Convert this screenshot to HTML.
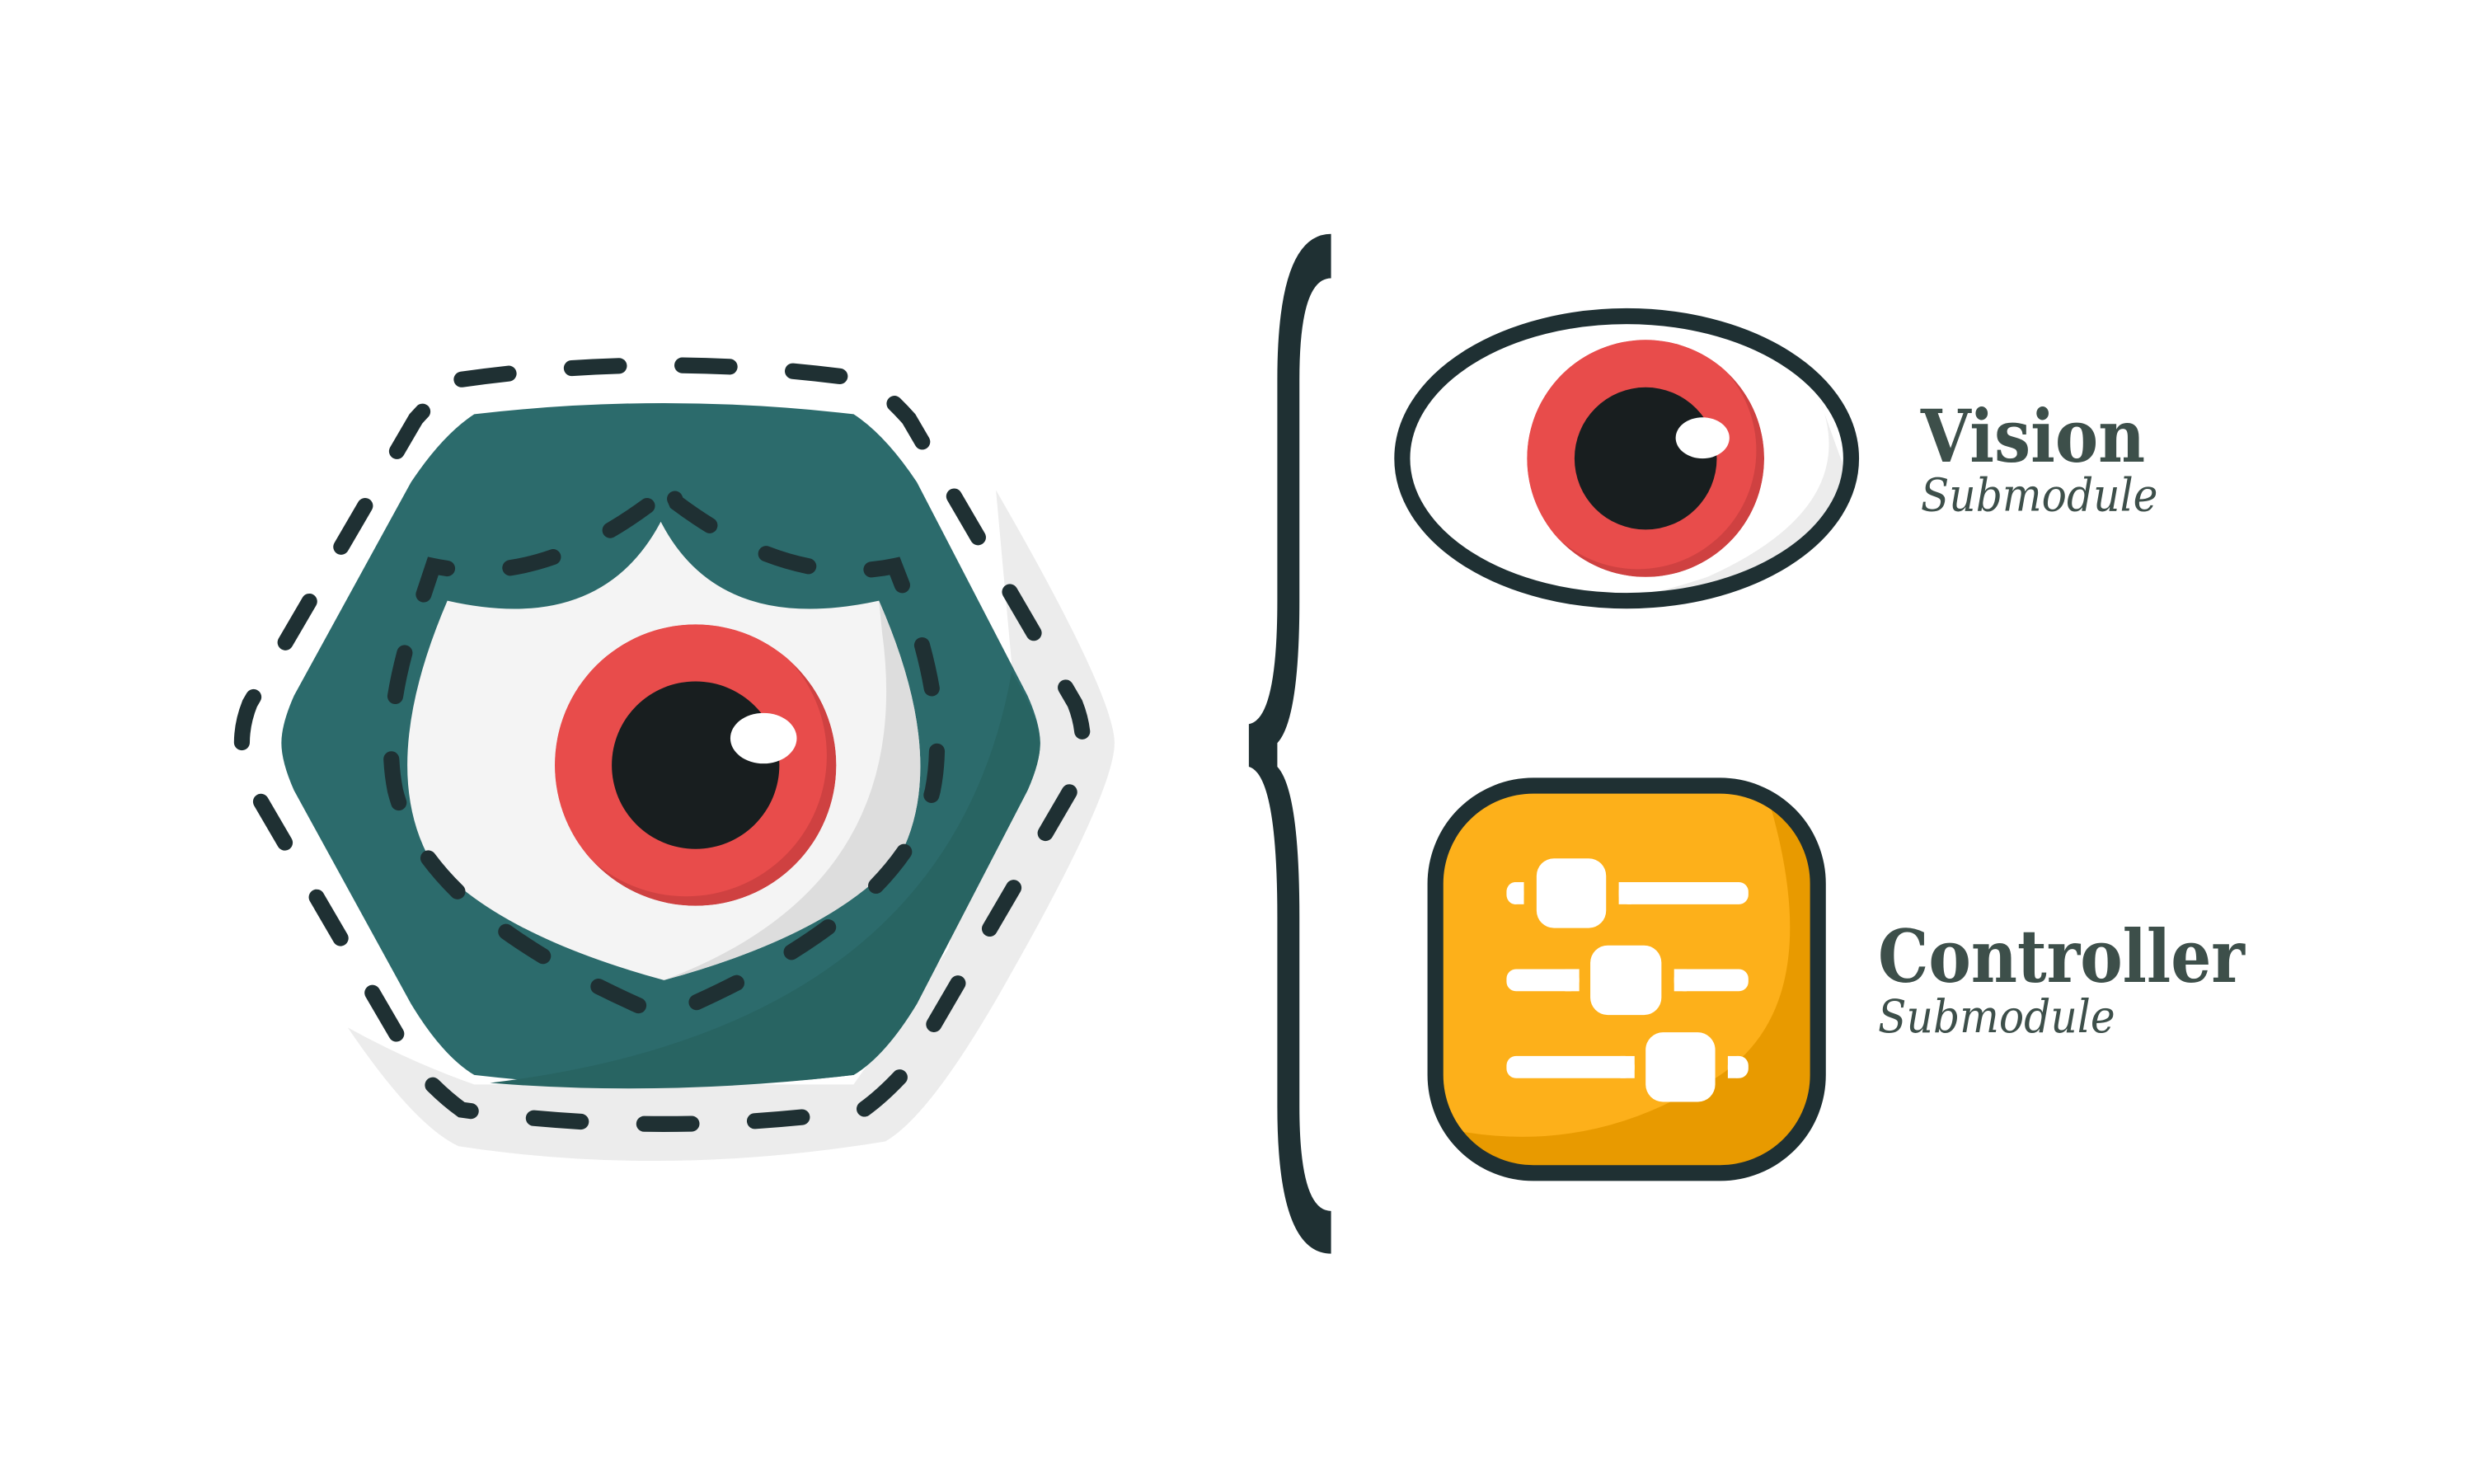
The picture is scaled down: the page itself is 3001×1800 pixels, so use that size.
<!DOCTYPE html>
<html><head><meta charset="utf-8"><style>html,body{margin:0;padding:0;background:#fff}svg{display:block}</style></head>
<body>
<svg width="3001" height="1800" viewBox="0 0 1565 938.7" xmlns="http://www.w3.org/2000/svg">
<defs>
<clipPath id="c1"><circle cx="440" cy="484" r="89"/></clipPath>
<clipPath id="c2"><circle cx="1041" cy="290" r="75"/></clipPath>
</defs>
<rect width="1600" height="960" fill="#fff"/>
<path d="M630,310 Q705,440 705,470 Q705,500 640,615 Q590,705 560,722 Q420,745 290,725 Q262,712 220,650 Q260,672 300,686 L540,686 L600,600 L640,420 Z" fill="#ececec"/>
<path d="M300,262 Q420,248 540,262 Q560,275 580,305 L650,440 Q658,458 658,470 Q658,482 650,500 L580,635 Q560,668 540,680 Q420,694 300,680 Q280,668 260,635 L186,500 Q178,482 178,470 Q178,458 186,440 L260,305 Q280,275 300,262 Z" fill="#2c6b6c"/>
<path d="M640,425 Q600,650 310,685 Q420,694 540,680 Q560,668 580,635 L650,500 Q658,482 658,470 Q658,455 640,425 Z" fill="#286462"/>
<path d="M292,240 Q420,222 546,240 Q560,248 575,265 L680,445 Q690,470 680,495 L575,675 Q560,692 546,702 Q420,720 292,702 Q278,692 263,675 L158,495 Q148,470 158,445 L263,265 Q278,248 292,240 Z" fill="none" stroke="#1f3033" stroke-width="10" stroke-linecap="round" stroke-dasharray="30 40"/>
<path d="M283,380 Q380,402 418,330 Q455,402 556,380 Q600,480 570,540 Q530,590 420,620 Q310,590 270,540 Q240,480 283,380 Z" fill="#f4f4f4"/>
<path d="M556,380 Q600,480 570,540 Q530,590 420,620 Q580,560 558,400 Z" fill="#dddddd"/>
<path d="M268,376 L274,358 Q340,372 412,318 L420,300 L428,318 Q500,372 566,358 L573,376 Q600,450 590,500 Q570,580 420,643 Q270,580 250,500 Q240,450 268,376 Z" fill="none" stroke="#1f3033" stroke-width="10" stroke-linecap="round" stroke-dasharray="28 40"/>
<g clip-path="url(#c1)">
<circle cx="440" cy="484" r="89" fill="#cf4141"/>
<circle cx="434" cy="478" r="89" fill="#e84c4b"/>
</g>
<circle cx="440" cy="484" r="53" fill="#181e1f"/>
<ellipse cx="483" cy="467" rx="21" ry="16" fill="#fff"/>
<path d="M842,148 L842,176 Q822,176 822,240 L822,380 Q822,455 808,470 L808,485 Q822,500 822,580 L822,700 Q822,766 842,766 L842,793 Q808,793 808,700 L808,580 Q808,490 790,485 L790,458 Q808,455 808,380 L808,240 Q808,148 842,148 Z" fill="#1f3033"/>
<ellipse cx="1029" cy="290" rx="142" ry="90" fill="#fff"/>
<path d="M1150,250 Q1180,320 1080,365 Q1050,375 1029,378 Q1140,380 1168,300 Z" fill="#ececec"/>
<g clip-path="url(#c2)">
<circle cx="1041" cy="290" r="75" fill="#cf4141"/>
<circle cx="1036" cy="285" r="75" fill="#e84c4b"/>
</g>
<circle cx="1041" cy="290" r="45" fill="#181e1f"/>
<ellipse cx="1077" cy="277" rx="17" ry="13" fill="#fff"/>
<ellipse cx="1029" cy="290" rx="142" ry="90" fill="none" stroke="#1f3033" stroke-width="10"/>
<text x="1215" y="292" font-family="'DejaVu Serif','Liberation Serif',serif" font-weight="bold" font-size="46" fill="#3d4f4a" textLength="142" lengthAdjust="spacingAndGlyphs">Vision</text>
<text x="1215" y="323" font-family="'DejaVu Serif','Liberation Serif',serif" font-style="italic" font-size="29" fill="#3d4f4a" textLength="150" lengthAdjust="spacingAndGlyphs">Submodule</text>
<rect x="908" y="497" width="242" height="245" rx="62" fill="#fdb01a"/>
<path d="M1120,510 Q1160,650 1070,690 Q1000,730 920,715 Q950,742 1000,742 L1090,742 Q1150,742 1150,680 L1150,560 Q1150,520 1120,510 Z" fill="#e89a00"/>
<rect x="908" y="497" width="242" height="245" rx="62" fill="none" stroke="#1f3033" stroke-width="10"/>
<g fill="#fff">
<rect x="953" y="558" width="11" height="14" rx="6"/><rect x="958" y="558" width="6" height="14"/><rect x="972" y="543" width="44" height="44" rx="11"/><rect x="1024" y="558" width="82" height="14" rx="6"/><rect x="1024" y="558" width="8" height="14"/>
<rect x="953" y="613" width="46" height="14" rx="6"/><rect x="990" y="613" width="9" height="14"/><rect x="1006" y="598" width="45" height="44" rx="11"/><rect x="1059" y="613" width="47" height="14" rx="6"/><rect x="1059" y="613" width="8" height="14"/>
<rect x="953" y="668" width="81" height="14" rx="6"/><rect x="1025" y="668" width="9" height="14"/><rect x="1041" y="653" width="44" height="44" rx="11"/><rect x="1093" y="668" width="13" height="14" rx="6"/><rect x="1093" y="668" width="6" height="14"/>
</g>
<text x="1188" y="621" font-family="'DejaVu Serif','Liberation Serif',serif" font-weight="bold" font-size="46" fill="#3d4f4a" textLength="232" lengthAdjust="spacingAndGlyphs">Controller</text>
<text x="1188" y="653" font-family="'DejaVu Serif','Liberation Serif',serif" font-style="italic" font-size="29" fill="#3d4f4a" textLength="150" lengthAdjust="spacingAndGlyphs">Submodule</text>
</svg>
</body></html>
